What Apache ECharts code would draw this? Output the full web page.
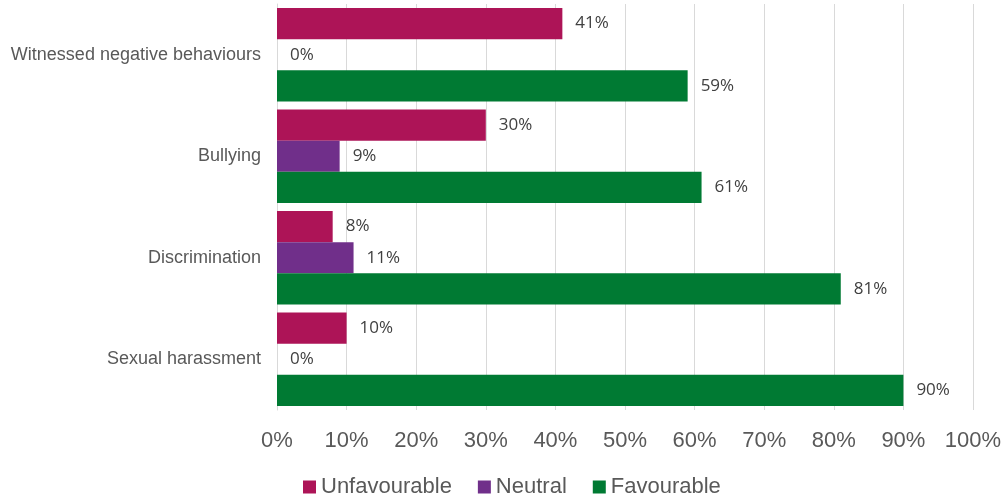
<!DOCTYPE html>
<html>
<head>
<meta charset="utf-8">
<script src="https://cdn.jsdelivr.net/npm/echarts@6/dist/echarts.min.js"></script>
<style>
  html, body { margin: 0; padding: 0; background: #fff; }
  #chart { width: 1005px; height: 499px; }
</style>
</head>
<body>
<div id="chart"></div>
<script>
// categories, top to bottom
var categories = ['Witnessed negative behaviours', 'Bullying', 'Discrimination', 'Sexual harassment']
var unfavourable = [41, 30, 8, 10]
var neutral = [0, 9, 11, 0]
var favourable = [59, 61, 81, 90]
var xTicks = [0, 10, 20, 30, 40, 50, 60, 70, 80, 90, 100]

var myChart = echarts.init(document.getElementById('chart'))

var labelStyle = {
  show: true,
  position: 'right',
  distance: 13,
  formatter: '{c}%',
  color: '#404040',
  fontFamily: 'Open Sans',
  fontSize: 17,
}

function bar(name, data, color) {
  return {
    name: name,
    type: 'bar',
    data: data,
    barGap: '0%',
    barCategoryGap: '8%',
    itemStyle: { color: color },
    label: labelStyle,
  }
}

var option = {
  animation: false,
  grid: { left: 277, right: 32, top: 4, bottom: 89 },
  legend: {
    left: 298,
    top: 471,
    itemWidth: 13,
    itemHeight: 13,
    itemGap: 26,
    icon: 'rect',
    textStyle: { color: '#595959', fontFamily: 'Liberation Sans', fontSize: 22 },
    data: ['Unfavourable', 'Neutral', 'Favourable'],
  },
  xAxis: {
    type: 'value',
    min: xTicks[0],
    max: xTicks[xTicks.length - 1],
    interval: 10,
    axisLine: { show: false },
    axisTick: { show: false },
    splitLine: { lineStyle: { color: '#D9D9D9', width: 1 } },
    axisLabel: {
      formatter: '{value}%',
      color: '#595959',
      fontFamily: 'Liberation Sans',
      fontSize: 22,
      margin: 20,
    },
  },
  yAxis: {
    type: 'category',
    inverse: true,
    data: categories,
    axisLine: { show: true, lineStyle: { color: '#D9D9D9', width: 1 } },
    axisTick: { show: false },
    axisLabel: {
      color: '#595959',
      fontFamily: 'Liberation Sans',
      fontSize: 18,
      margin: 16,
    },
  },
  series: [
    bar('Unfavourable', unfavourable, '#AD1457'),
    bar('Neutral', neutral, '#702F8A'),
    bar('Favourable', favourable, '#007A33'),
  ],
}
myChart.setOption(option)
</script>
</body>
</html>
